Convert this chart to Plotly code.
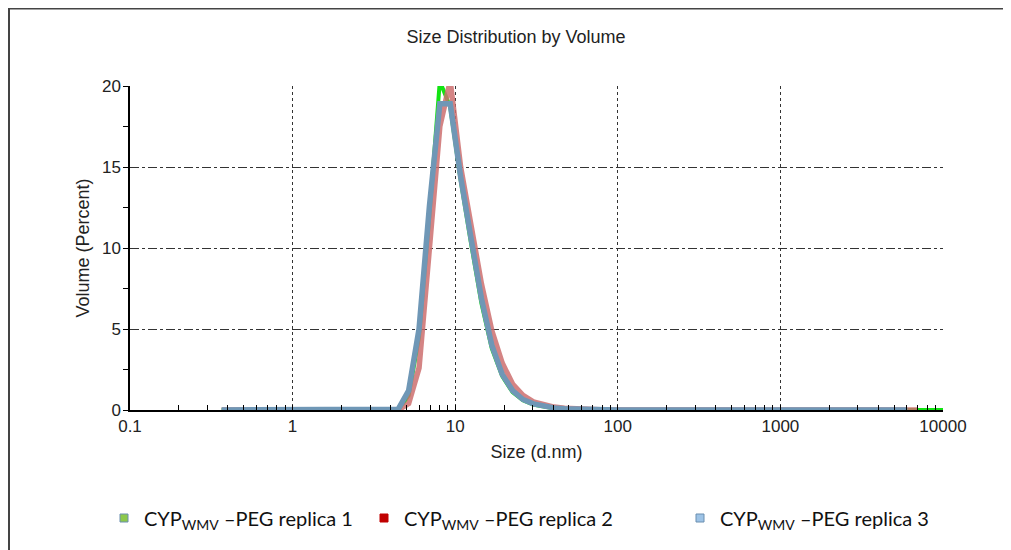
import plotly.graph_objects as go

# Size classes (d.nm)
sizes = [0.366, 0.424, 0.491, 0.569, 0.659, 0.764, 0.885, 1.025, 1.188, 1.376,
         1.594, 1.847, 2.140, 2.479, 2.872, 3.327, 3.854, 4.465, 5.173, 5.993,
         6.943, 8.043, 9.318, 10.80, 12.51, 14.49, 16.79, 19.45, 22.53, 26.10,
         30.24, 35.03, 40.58, 47.01, 54.46, 63.10, 73.10, 84.69, 98.1, 113.7,
         131.7, 152.6, 176.8, 204.8, 237.2, 274.8, 318.4, 368.8, 427.3, 495.0,
         573.5, 664.4, 769.7, 891.7, 1033, 1197, 1387, 1606, 1861, 2156,
         2498, 2893, 3352, 3883, 4499, 5212, 6038, 6995, 8104, 9389, 10000]

# Volume (%) per size class
replica1 = [0]*17 + [0.0, 0.9, 4.5, 12.0, 20.3, 18.7, 14.2, 10.3, 6.6, 3.8,
                     2.1, 1.1, 0.6, 0.33, 0.19, 0.1, 0.06, 0.03, 0.02, 0.01] + [0]*34
replica2 = [0]*17 + [0.0, 0.4, 2.6, 10.0, 17.5, 20.3, 15.0, 11.4, 7.8, 4.9,
                     2.9, 1.6, 0.9, 0.5, 0.3, 0.18, 0.11, 0.07, 0.04, 0.02] + [0]*31
replica3 = [0]*17 + [0.05, 1.2, 5.0, 12.6, 18.9, 18.9, 14.4, 10.6, 6.9, 4.0,
                     2.2, 1.2, 0.65, 0.38, 0.22, 0.13, 0.08, 0.05, 0.03, 0.02] + [0]*30

names = ["CYP<sub>WMV</sub> \u2013PEG replica 1",
         "CYP<sub>WMV</sub> \u2013PEG replica 2",
         "CYP<sub>WMV</sub> \u2013PEG replica 3"]
line_colors = ["#12e412", "rgba(205,110,110,0.85)", "#6f97b6"]
line_widths = [4, 5.5, 5.5]
legend_colors = ["#8cc84b", "#c00000", "#9dc3e6"]
legend_borders = ["#6b8fb0", "#c00000", "#6b8fb0"]

x_ticks = [0.1, 1, 10, 100, 1000, 10000]
x_ticktext = ["0.1", "1", "10", "100", "1000", "10000"]
y_ticks = [0, 5, 10, 15, 20]

fig = go.Figure()
series = [replica1, replica2, replica3]
for k, ys in enumerate(series):
    fig.add_trace(go.Scatter(
        x=sizes[:len(ys)], y=ys, mode="lines",
        line=dict(color=line_colors[k], width=line_widths[k]),
        showlegend=False, hoverinfo="skip"))

for k in range(3):
    fig.add_trace(go.Scatter(
        x=[None], y=[None], mode="markers", name=names[k],
        marker=dict(symbol="square", size=8, color=legend_colors[k],
                    line=dict(color=legend_borders[k], width=1)),
        legend="legend" if k < 2 else "legend2"))

font_main = "Liberation Sans, Arial, sans-serif"
legend_font = dict(family="Lato, Open Sans, sans-serif", size=20, color="#111")
L, R, T, B = 122, 76, 78, 148
PW, PH = 1011 - L - R, 550 - T - B

fig.update_layout(
    width=1011, height=550,
    margin=dict(l=L, r=R, t=T, b=B),
    paper_bgcolor="white", plot_bgcolor="white",
    title=dict(text="Size Distribution by Volume", x=508/1011, xref="container",
               y=1 - 29/550, yref="container", xanchor="center", yanchor="middle",
               font=dict(family=font_main, size=18, color="#222")),
    legend=dict(orientation="h", xref="container", yref="container",
                x=96/1011, y=1 - 510/550, xanchor="left", yanchor="middle",
                entrywidth=215, itemwidth=30, font=legend_font,
                bgcolor="rgba(0,0,0,0)"),
    legend2=dict(orientation="h", xref="container", yref="container",
                 x=672/1011, y=1 - 510/550, xanchor="left", yanchor="middle",
                 itemwidth=30, font=legend_font, bgcolor="rgba(0,0,0,0)"),
    xaxis=dict(type="log", range=[-1, 4], tickmode="array", tickvals=x_ticks,
               ticktext=x_ticktext, showline=True, linecolor="black", linewidth=1.5,
               showgrid=True, gridcolor="#333", gridwidth=1.3, griddash="dot",
               ticks="inside", ticklen=4, tickcolor="black",
               minor=dict(ticks="inside", ticklen=5, tickcolor="black", dtick="D1",
                          showgrid=False),
               zeroline=False,
               tickfont=dict(family=font_main, size=17, color="#222"),
               title=dict(text="Size (d.nm)", standoff=10,
                          font=dict(family=font_main, size=18, color="#222"))),
    yaxis=dict(range=[0, 20], tickmode="array", tickvals=y_ticks,
               showline=True, linecolor="black", linewidth=1.5,
               showgrid=True, gridcolor="#333", gridwidth=1.3, griddash="dashdot",
               ticks="outside", ticklen=4, tickcolor="black",
               minor=dict(ticks="outside", ticklen=5, tickcolor="black", dtick=2.5,
                          showgrid=False),
               zeroline=False,
               tickfont=dict(family=font_main, size=17, color="#222"),
               title=dict(text="Volume (Percent)", standoff=8,
                          font=dict(family=font_main, size=18, color="#222"))),
    shapes=[dict(type="rect", xref="paper", yref="paper",
                 x0=(1 - L)/PW, x1=(1030 - L)/PW,
                 y0=-(B + 20)/PH, y1=1 + (T - 0.5)/PH,
                 line=dict(color="#444", width=2), fillcolor="rgba(0,0,0,0)",
                 layer="below")],
)

fig.write_html("out.html")
